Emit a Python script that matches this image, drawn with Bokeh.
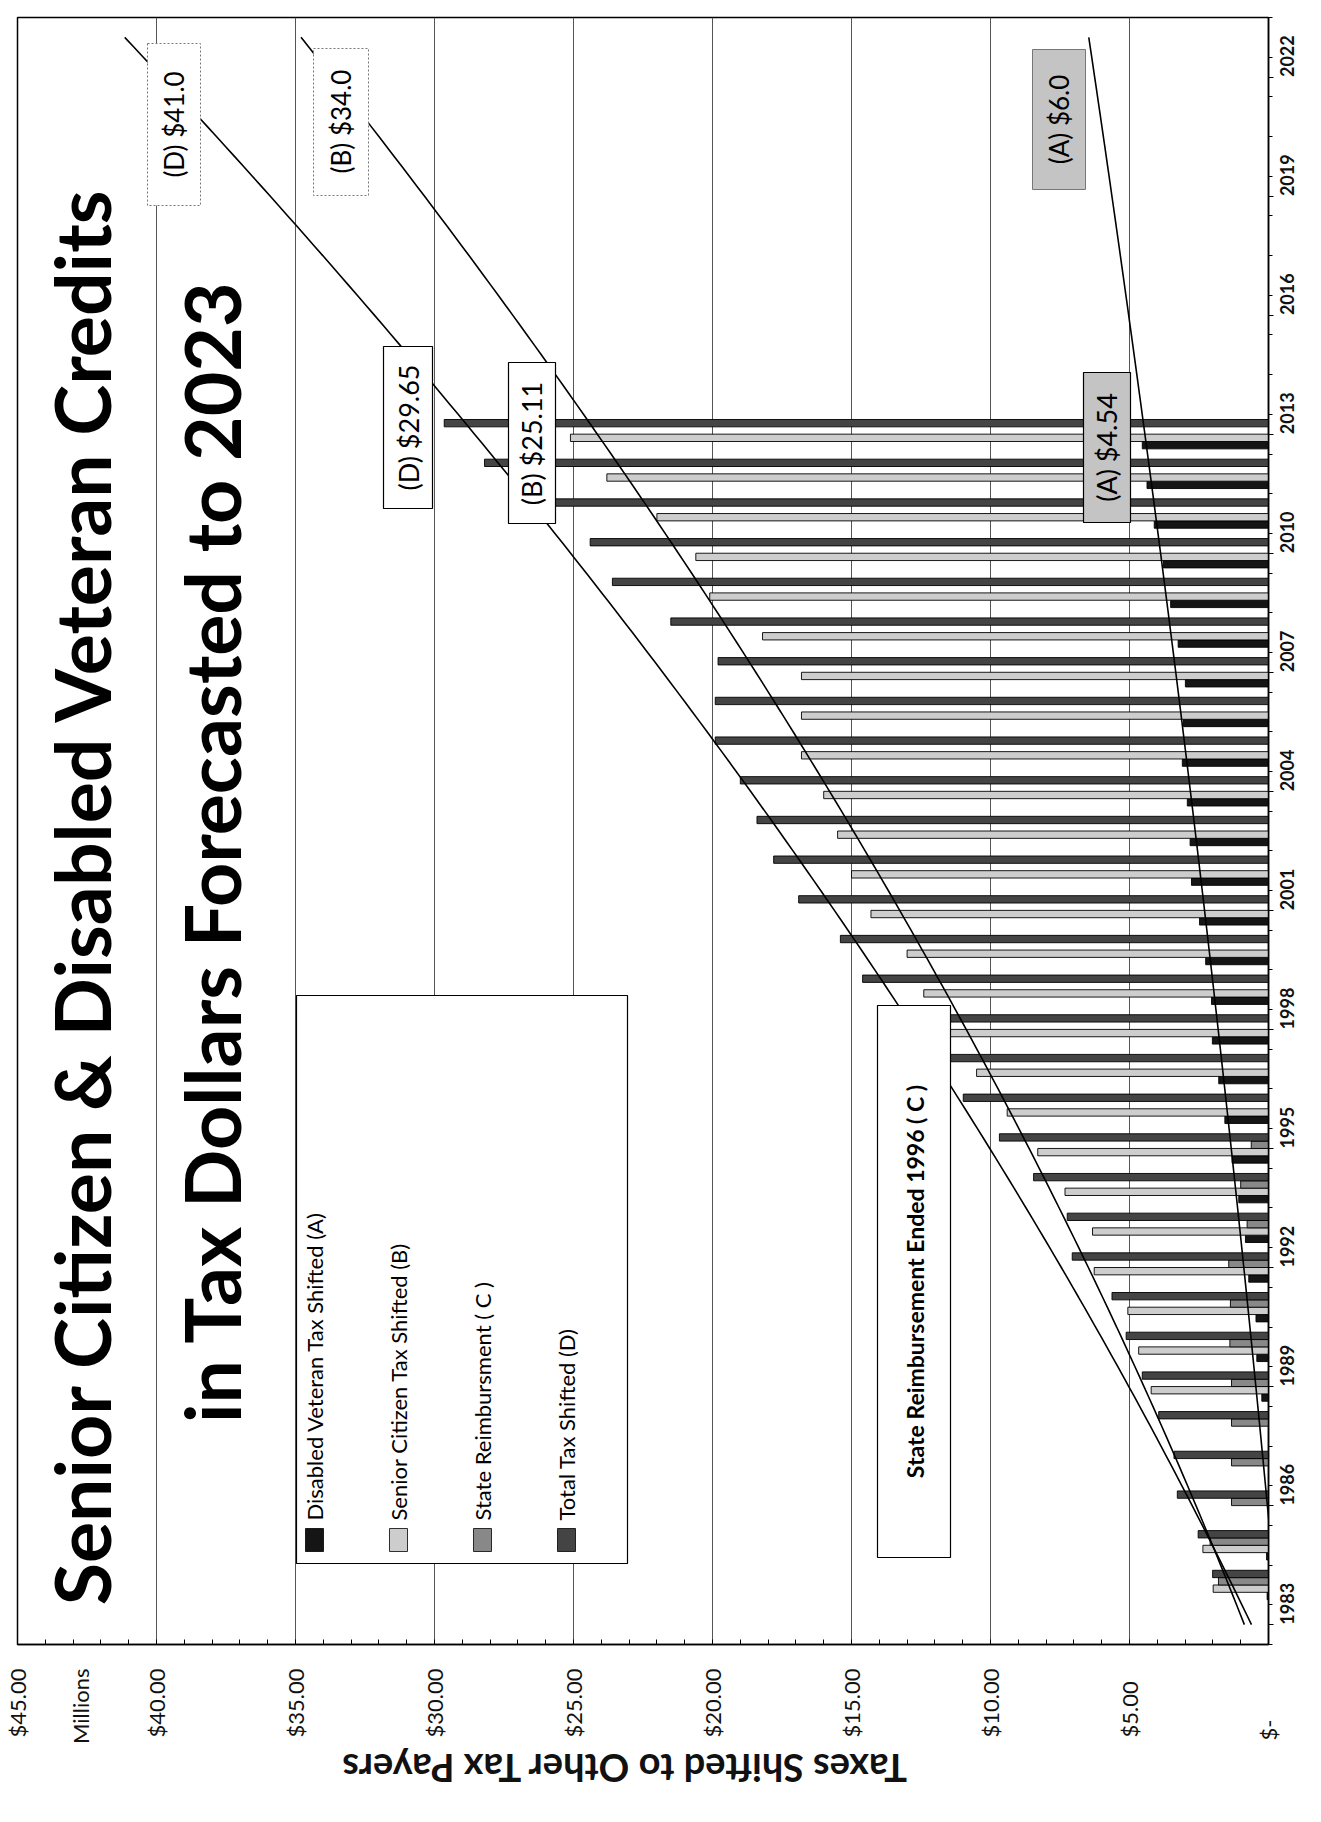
import numpy as np
from math import pi
from bokeh.plotting import figure
from bokeh.models import Range1d, FixedTicker, BoxAnnotation, Label, ColumnDataSource
from bokeh.transform import dodge
from bokeh.embed import file_html
from bokeh.resources import INLINE

# ---------------- data (millions of dollars) ----------------
years = list(range(1983, 2014))
disabled_veteran_A = [None, 0.05, 0.07, None, None, None, 0.24, 0.42, 0.45, 0.71, 0.83,
                      1.07, 1.31, 1.57, 1.79, 2.02, 2.05, 2.26, 2.48, 2.77, 2.82, 2.92,
                      3.10, 3.06, 2.99, 3.25, 3.52, 3.78, 4.11, 4.37, 4.54]
senior_citizen_B = [None, 1.99, 2.36, None, None, None, 4.22, 4.67, 5.06, 6.27, 6.33,
                    7.32, 8.30, 9.40, 10.5, 11.7, 12.4, 13.0, 14.3, 15.0, 15.5, 16.0,
                    16.8, 16.8, 16.8, 18.2, 20.1, 20.6, 22.0, 23.8, 25.11]
state_reimb_C = [None, 1.80, 2.10, 1.33, 1.33, 1.33, 1.33, 1.39, 1.37, 1.43, 0.77,
                 1.00, 0.62] + [None] * 18
total_D = [None, 2.01, 2.53, 3.28, 3.40, 3.95, 4.54, 5.12, 5.63, 7.06, 7.24,
           8.45, 9.68, 10.98, 12.3, 13.7, 14.6, 15.4, 16.9, 17.8, 18.4, 19.0,
           19.9, 19.9, 19.8, 21.5, 23.6, 24.4, 25.9, 28.2, 29.65]
forecast_year = 2023
year_tick_labels = [1983, 1986, 1989, 1992, 1995, 1998, 2001, 2004, 2007, 2010, 2013, 2016, 2019, 2022]
value_ticks = [0, 5, 10, 15, 20, 25, 30, 35, 40, 45]
value_tick_text = ["$-\u2007\u2007\u2007\u2007", "$5.00\u2007", "$10.00", "$15.00", "$20.00",
                   "$25.00", "$30.00", "$35.00", "$40.00", "$45.00"]
units_text = "Millions"
value_axis_title = "Taxes Shifted to Other Tax Payers"
legend_names = ["Disabled Veteran Tax Shifted (A)", "Senior Citizen Tax Shifted (B)",
                "State Reimbursment ( C )", "Total Tax Shifted (D)"]

# ---------------- layout ----------------
W, H = 1321, 1822
FL, FR, FT, FB = 17, 1268, 17, 1644
XMAX = 45.0
Y0, Y1 = 1982.5, 2023.5
FONT = "Lato"


def vx(px):
    return XMAX * (FR - px) / (FR - FL)


def vy(py):
    return Y0 + (Y1 - Y0) * (FB - py) / (FB - FT)


p = figure(width=W, height=H, title=None, x_range=Range1d(XMAX, 0), y_range=Range1d(Y0, Y1),
           output_backend="svg", toolbar_location=None, y_axis_location="right",
           min_border_left=FL, min_border_right=W - FR, min_border_top=FT, min_border_bottom=H - FB)
p.background_fill_color = "white"
p.border_fill_color = "white"
p.outline_line_color = "black"
p.outline_line_width = 1.5

# value axis (bottom); the units tag sits among the tick labels like in the source
units_pos = vx(80)
xa = p.xaxis[0]
xa.ticker = FixedTicker(ticks=value_ticks + [units_pos], minor_ticks=list(range(0, 46)))
overrides = {t: s for t, s in zip(value_ticks, value_tick_text)}
overrides[units_pos] = units_text
xa.major_label_overrides = overrides
xa.major_label_orientation = pi / 2
xa.major_label_text_font = FONT
xa.major_label_text_font_size = "22px"
xa.major_label_text_color = "#111111"
xa.major_label_standoff = 24
xa.major_tick_in = 0
xa.major_tick_out = 0
xa.minor_tick_in = 5
xa.minor_tick_out = 0
xa.axis_line_color = "black"
xa.axis_line_width = 1.5
# upside-down title (the whole sheet is turned a quarter turn); em-space padding shifts it to centre
xa.axis_label = value_axis_title + " " + "\u2003" * 11
xa.axis_label_text_font = FONT
xa.axis_label_text_font_size = "38px"
xa.axis_label_text_font_style = "bold"
xa.axis_label_text_color = "#111111"
xa.axis_label_standoff = 22
try:
    xa.axis_label_orientation = pi
except Exception:
    pass
try:
    xa.axis_label_align = "end"
except Exception:
    pass

ya = p.yaxis[0]
ya.ticker = FixedTicker(ticks=year_tick_labels, minor_ticks=[y + 0.5 for y in range(1982, 2024)])
ya.major_label_orientation = pi / 2
ya.major_label_text_font = FONT
ya.major_label_text_font_size = "18px"
ya.major_label_text_font_style = "bold"
ya.major_label_text_color = "#111111"
ya.major_label_standoff = 14
ya.major_tick_in = 0
ya.major_tick_out = 5
ya.minor_tick_in = 0
ya.minor_tick_out = 4
ya.axis_line_color = "black"
ya.axis_line_width = 1.5

p.xgrid.ticker = FixedTicker(ticks=value_ticks)
p.xgrid.grid_line_color = "#555555"
p.xgrid.grid_line_width = 1
p.ygrid.visible = False


def nanify(a):
    return [np.nan if v is None else v for v in a]


src = ColumnDataSource(dict(year=years, A=nanify(disabled_veteran_A), B=nanify(senior_citizen_B),
                            C=nanify(state_reimb_C), D=nanify(total_D)))

colors = {"A": "#151515", "B": "#cdcdcd", "C": "#888888", "D": "#444444"}
bar_h = 0.185
offsets = {"A": -0.2775, "B": -0.0925, "C": 0.0925, "D": 0.2775}
for key in ["A", "B", "C", "D"]:
    p.hbar(y=dodge("year", offsets[key]), left=key, right=0, height=bar_h, source=src,
           fill_color=colors[key], line_color="black", line_width=0.9)

# polynomial (order 2) trendlines, forecast to 2023
yrs = np.array(years, dtype=float)
tx = np.linspace(years[0], forecast_year, 161)
for arr in [total_D, senior_citizen_B, disabled_veteran_A]:
    vals = np.array(nanify(arr), dtype=float)
    m = np.isfinite(vals)
    coef = np.polyfit(yrs[m], vals[m], 2)
    p.line(np.polyval(coef, tx), tx, line_color="black", line_width=1.6)


def box(x1, x2, y1, y2, fill="white", line="black", lw=1.2, dash="solid"):
    p.add_layout(BoxAnnotation(left=vx(x1), right=vx(x2), top=vy(y1), bottom=vy(y2),
                               fill_color=fill, fill_alpha=1.0, line_color=line,
                               line_width=lw, line_dash=dash, line_alpha=1.0))


def label(px, py, text, size, bold=False, angle=pi / 2, align="center", baseline="middle", **kw):
    p.add_layout(Label(x=vx(px), y=vy(py), text=text, angle=angle, text_align=align,
                       text_baseline=baseline, text_font=FONT, text_font_size=f"{size}px",
                       text_font_style="bold" if bold else "normal", text_color="black", **kw))


# title
label(80, 895, "Senior Citizen & Disabled Veteran Credits", 77, bold=True)
label(210, 851, "in Tax Dollars Forecasted to 2023", 77, bold=True)

# legend
box(296, 627, 995, 1563)
for i, (name, key) in enumerate(zip(legend_names, ["A", "B", "C", "D"])):
    cx = 314 + 84 * i
    box(cx - 9, cx + 9, 1528, 1551, fill=colors[key], line="black", lw=0.8)
    label(cx, 1520, name, 22, align="left")

# state reimbursement note
box(877, 950, 1005, 1557)
label(914, 1281, "State Reimbursement Ended 1996 ( C )", 23, bold=True)

# value call-outs
box(383, 432, 346, 508)
label(408, 427, "(D) $29.65", 27)
box(508, 555, 362, 523)
label(531, 443, "(B) $25.11", 27)
box(1083, 1130, 372, 522, fill="#c4c4c4")
label(1106, 447, "(A) $4.54", 27)
box(147, 200, 43, 205, line="#777777", lw=1, dash="2 2")
label(173, 124, "(D) $41.0", 26)
box(313, 368, 48, 195, line="#777777", lw=1, dash="2 2")
label(340, 121, "(B) $34.0", 26)
box(1032, 1085, 49, 189, fill="#c4c4c4", line="#777777", lw=1)
label(1058, 119, "(A) $6.0", 26)

open("out.html", "w").write(file_html(p, INLINE))
